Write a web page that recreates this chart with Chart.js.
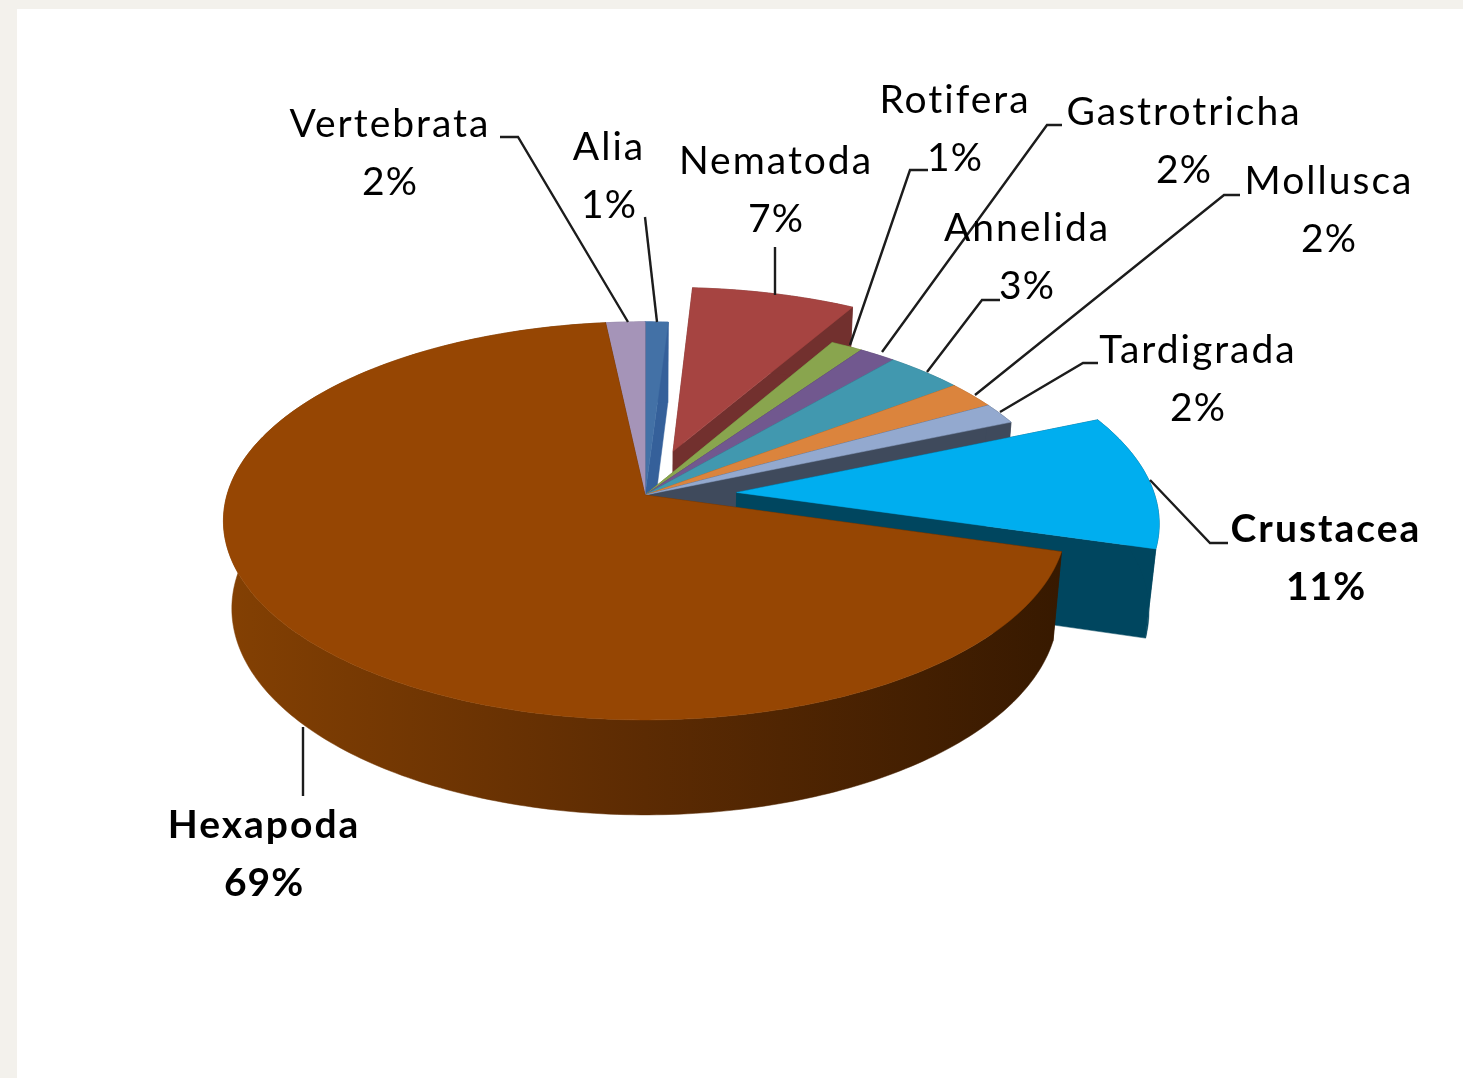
<!DOCTYPE html>
<html>
<head>
<meta charset="utf-8">
<title>Phyla</title>
<script src="https://cdn.jsdelivr.net/npm/chart.js@4"></script>
<style>
  html, body { margin:0; padding:0; background:#f3f1ec; overflow:hidden; }
  #panel { position:absolute; left:17px; top:9px; width:1446px; height:1069px; background:#fff; }
  #pie { position:absolute; left:0; top:0; filter:blur(0.7px); }
</style>
</head>
<body>
<div id="panel"></div>
<canvas id="pie" width="1463" height="1078"></canvas>
<script>
// data, clockwise from the top of the pie
const categories = ['Alia','Nematoda','Rotifera','Gastrotricha','Annelida','Mollusca','Tardigrada','Crustacea','Hexapoda','Vertebrata'];
const shares = [1, 7.3, 1.4, 1.6, 3.4, 2.2, 1.7, 10.9, 68.8, 1.7];

// styles
const topColors = ['#4371a6','#a64441','#89a54e','#71588f','#4198af','#db843d','#93a9cf','#00aeef','#964603','#a594b8'];
const wallColors = ['#35609a','#72302e','#5f7535','#4e3d63','#2c6a7b','#9a5c2a','#3f4a5c','#00465f','#5a2a03','#75688a'];
const explode = [0, 0.24, 0, 0, 0, 0, 0, 0.22, 0, 0];
const boldLabels = ['Crustacea','Hexapoda'];

// label centre x, first line baseline
const labelX = [609, 776, 955, 1184, 1027, 1329, 1198, 1326, 264, 390];
const labelY = [160, 174, 113, 125, 241, 194, 363, 542, 838, 137];
const leaders = [
  [[645,217],[657,322]],
  [[775,247],[775,295]],
  [[928,170],[910,170],[850,345]],
  [[1062,125],[1047,125],[882,352]],
  [[1000,300],[982,300],[927,372]],
  [[1240,195],[1224,195],[975,395]],
  [[1098,363],[1083,363],[1000,412]],
  [[1228,543],[1210,543],[1150,480]],
  [[303,727],[303,796]],
  [[500,137],[518,137],[628,322]]
];

// tilted disc, with a bit of perspective
const view = { cx:645, cy:495, rx:418, ry:195.7, depth:89, p:0.13, q:0.02 };

function project(x, y, z) {
  const w = 1 / (1 - view.p * y + view.q * z);
  return [view.cx + view.rx * x * w, view.cy + (view.ry * y + view.depth * z) * w];
}

function fillPoly(ctx, pts, color) {
  ctx.beginPath();
  pts.forEach((p, i) => i ? ctx.lineTo(p[0], p[1]) : ctx.moveTo(p[0], p[1]));
  ctx.closePath();
  ctx.fillStyle = color;
  ctx.fill();
  // hairline so neighbouring polygons do not show seams
  ctx.strokeStyle = color;
  ctx.lineWidth = 0.5;
  ctx.stroke();
}

function paintSlice(ctx, arc, i) {
  const start = arc.startAngle, end = arc.endAngle, mid = (start + end) / 2;
  const ox = Math.cos(mid) * explode[i], oy = Math.sin(mid) * explode[i];
  const steps = Math.max(4, Math.ceil((end - start) * 60));
  const rim = z => {
    const pts = [];
    for (let s = 0; s <= steps; s++) {
      const a = start + (end - start) * s / steps;
      pts.push(project(ox + Math.cos(a), oy + Math.sin(a), z));
    }
    return pts;
  };
  const topRim = rim(0), lowRim = rim(1);
  const apexTop = project(ox, oy, 0), apexLow = project(ox, oy, 1);

  let wall = wallColors[i];
  if (categories[i] === 'Hexapoda') {
    wall = ctx.createLinearGradient(230, 0, 1060, 0);
    wall.addColorStop(0, '#834003');
    wall.addColorStop(0.5, '#5c2b03');
    wall.addColorStop(1, '#371900');
  }
  fillPoly(ctx, [apexTop, topRim[0], lowRim[0], apexLow], wall);
  fillPoly(ctx, [apexTop, topRim[steps], lowRim[steps], apexLow], wall);
  fillPoly(ctx, topRim.concat(lowRim.slice().reverse()), wall);
  fillPoly(ctx, [apexTop].concat(topRim), topColors[i]);
}

const pie3d = {
  id: 'pie3d',
  beforeDatasetDraw(chart) {
    const ctx = chart.ctx;
    const arcs = chart.getDatasetMeta(0).data;
    // far slices first
    const order = arcs.map((a, i) => i).sort((m, n) =>
      Math.sin((arcs[m].startAngle + arcs[m].endAngle) / 2) - Math.sin((arcs[n].startAngle + arcs[n].endAngle) / 2));
    ctx.save();
    order.forEach(i => paintSlice(ctx, arcs[i], i));
    ctx.restore();
    return false;
  },
  afterDraw(chart) {
    const ctx = chart.ctx;
    const total = shares.reduce((s, v) => s + v, 0);
    ctx.save();
    ctx.strokeStyle = '#1c1c1c';
    ctx.lineWidth = 2.4;
    leaders.forEach(line => {
      ctx.beginPath();
      line.forEach((p, i) => i ? ctx.lineTo(p[0], p[1]) : ctx.moveTo(p[0], p[1]));
      ctx.stroke();
    });
    ctx.fillStyle = '#000';
    ctx.textAlign = 'center';
    ctx.textBaseline = 'alphabetic';
    categories.forEach((name, i) => {
      const bold = boldLabels.includes(name);
      ctx.font = (bold ? 'bold ' : '') + '39px Lato';
      ctx.letterSpacing = '2px';
      ctx.fillText(name, labelX[i], labelY[i]);
      ctx.letterSpacing = '1px';
      ctx.fillText(Math.round(shares[i] / total * 100) + '%', labelX[i], labelY[i] + 58);
    });
    ctx.restore();
  }
};

new Chart(document.getElementById('pie').getContext('2d'), {
  type: 'pie',
  data: {
    labels: categories,
    datasets: [{ data: shares, backgroundColor: topColors, borderWidth: 0 }]
  },
  options: {
    responsive: false,
    animation: false,
    rotation: 0,
    plugins: { legend: { display: false }, tooltip: { enabled: false } }
  },
  plugins: [pie3d]
});
</script>
</body>
</html>
